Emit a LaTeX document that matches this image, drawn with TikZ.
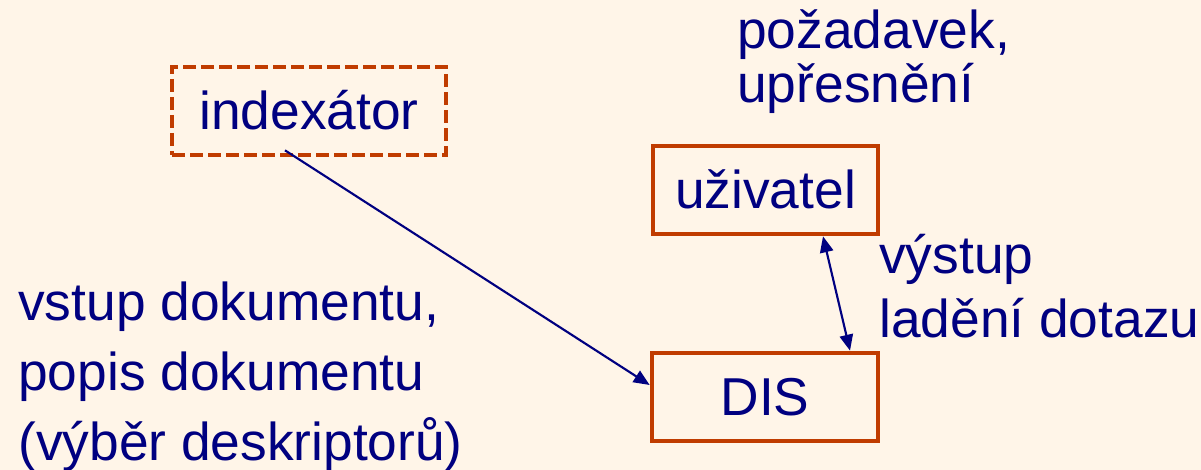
\documentclass[tikz,border=0pt]{standalone}
\usepackage{fontspec}
\setmainfont{Liberation Sans}
\usepackage{tikz}
\usetikzlibrary{arrows.meta}
\definecolor{cream}{RGB}{255,245,232}
\definecolor{rust}{RGB}{192,60,0}
\definecolor{navy}{RGB}{0,0,128}

\begin{document}
\begin{tikzpicture}[x=0.75pt, y=-0.75pt,
    box/.style = {draw=rust, line width=3.5pt, minimum height=66pt, inner sep=0pt,
        text height=28pt, text depth=0pt, text=navy, font=\fontsize{40}{48}\selectfont},
    lbl/.style = {anchor=base west, align=left, inner sep=0pt, text=navy},
    conn/.style = {navy, line width=1.6pt, -{Triangle[length=12pt,width=10pt]}}]
    \useasboundingbox (0,0) rectangle (1201,470);
    \fill[cream] (0,0) rectangle (1201,470);

    \node[box, dash pattern=on 9.5pt off 4pt, minimum width=205.5pt] (idx) at (309,111) {indexátor};
    \node[box, minimum width=168.75pt] (uziv) at (765.5,190) {uživatel};
    \node[box, minimum width=169.5pt] (dis) at (765,397) {DIS};

    % base anchor of a multi-line node sits on its last line
    \node[lbl, font=\fontsize{40}{52.5}\selectfont] (vstup) at (18,460)
        {vstup dokumentu,\\popis dokumentu\\(výběr deskriptorů)};
    \node[lbl, font=\fontsize{40}{40.5}\selectfont] (pozad) at (737,103)
        {požadavek,\\upřesnění};
    \node[lbl, font=\fontsize{40}{48}\selectfont] (vystup) at (879,337)
        {výstup\\ladění dotazu};

    \draw[conn] ([shift={(-24,-7)}]idx.south) -- ([shift={(0,-12)}]dis.west);
    \draw[conn, {Triangle[length=12pt,width=10pt]}-{Triangle[length=12pt,width=10pt]}]
        ([shift={(57.5,0)}]uziv.south) -- ([shift={(85,0)}]dis.north);
\end{tikzpicture}
\end{document}
